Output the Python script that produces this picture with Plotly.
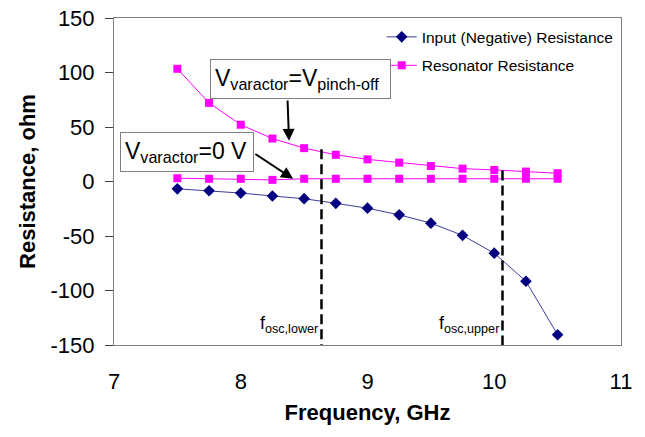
import plotly.graph_objects as go

# ---- data ----
freq_ghz = [7.5, 7.75, 8.0, 8.25, 8.5, 8.75, 9.0, 9.25, 9.5, 9.75, 10.0, 10.25, 10.5]
input_resistance = [-6.7, -8.5, -10.6, -13.3, -15.8, -20.0, -24.5, -30.6, -38.2, -49.4, -65.8, -91.5, -140.6]
resonator_pinchoff = [103.4, 72.1, 52.1, 39.4, 30.6, 24.5, 20.3, 17.3, 14.2, 11.8, 10.6, 9.1, 7.6]
resonator_zero_v = [3.0, 2.5, 2.5, 1.5, 2.5, 2.5, 2.5, 2.5, 2.5, 2.5, 2.5, 2.5, 2.5]

osc_lower_freq = 8.637
osc_lower_top = 29.7
osc_upper_freq = 10.065
osc_upper_top = 10.0
y_bottom = -150

x_ticks = [7, 8, 9, 10, 11]
y_ticks = [150, 100, 50, 0, -50, -100, -150]
y_tick_labels = ["150", "100", "50", "0", "-50", "-100", "-150"]

FONT = "Arial, Liberation Sans, sans-serif"
NARROW = "Liberation Sans Narrow, Arial Narrow, Liberation Sans, sans-serif"

fig = go.Figure()

fig.add_trace(go.Scatter(
    x=freq_ghz, y=input_resistance, mode="lines+markers",
    name="Input (Negative) Resistance",
    line=dict(color="#3c3ca0", width=1),
    marker=dict(symbol="diamond", size=9, color="#000080"),
    legend="legend",
))
fig.add_trace(go.Scatter(
    x=freq_ghz, y=resonator_pinchoff, mode="lines+markers",
    name="Resonator Resistance", legendgroup="res",
    line=dict(color="#ff00ff", width=1),
    marker=dict(symbol="square", size=8, color="#ff00ff"),
    legend="legend2",
))
fig.add_trace(go.Scatter(
    x=freq_ghz, y=resonator_zero_v, mode="lines+markers",
    name="Resonator Resistance", legendgroup="res", showlegend=False,
    line=dict(color="#ff00ff", width=1),
    marker=dict(symbol="square", size=8, color="#ff00ff"),
))

# dashed oscillation-limit lines
for fx, ftop in [(osc_lower_freq, osc_lower_top), (osc_upper_freq, osc_upper_top)]:
    fig.add_trace(go.Scatter(
        x=[fx, fx], y=[ftop, y_bottom], mode="lines", showlegend=False,
        line=dict(color="black", width=2.5, dash="10px,5px"), hoverinfo="skip",
    ))

annotations = [
    # text boxes
    dict(x=8.471, y=93.6, xref="x", yref="y", showarrow=False,
         text="V<sub>varactor</sub>=V<sub>pinch-off</sub>",
         font=dict(family=FONT, size=23, color="black"), align="left",
         bgcolor="white", bordercolor="#808080", borderwidth=1, borderpad=4,
         width=171, height=30),
    dict(x=7.574, y=27.4, xref="x", yref="y", showarrow=False,
         text="V<sub>varactor</sub>=0 V",
         font=dict(family=FONT, size=23, color="black"), align="left",
         bgcolor="white", bordercolor="#808080", borderwidth=1, borderpad=4,
         width=124, height=30),
    # arrows
    dict(x=8.381, y=37.3, ax=8.369, ay=75.7, xref="x", yref="y", axref="x", ayref="y",
         text="", showarrow=True, arrowhead=2, arrowsize=1.2, arrowwidth=2,
         arrowcolor="black", standoff=0, startstandoff=0),
    dict(x=8.413, y=2.5, ax=8.103, ay=26.1, xref="x", yref="y", axref="x", ayref="y",
         text="", showarrow=True, arrowhead=2, arrowsize=1.2, arrowwidth=2,
         arrowcolor="black", standoff=0, startstandoff=0),
    # f labels
    dict(x=osc_lower_freq, y=-131, xref="x", yref="y", showarrow=False,
         xanchor="right", yanchor="middle", xshift=-1,
         text="f<sub>osc,lower</sub>", font=dict(family=NARROW, size=18, color="black")),
    dict(x=osc_upper_freq, y=-131, xref="x", yref="y", showarrow=False,
         xanchor="right", yanchor="middle", xshift=-1,
         text="f<sub>osc,upper</sub>", font=dict(family=NARROW, size=18, color="black")),
]

fig.update_layout(
    width=645, height=437,
    margin=dict(l=114, r=24, t=18, b=92, autoexpand=False),
    paper_bgcolor="white", plot_bgcolor="white",
    font=dict(family=FONT, color="black"),
    annotations=annotations,
    legend=dict(x=0.528, y=0.941, xanchor="left", yanchor="middle",
                bgcolor="rgba(0,0,0,0)", font=dict(family=FONT, size=15.5, color="black")),
    legend2=dict(x=0.528, y=0.854, xanchor="left", yanchor="middle",
                 bgcolor="rgba(0,0,0,0)", font=dict(family=FONT, size=15.5, color="black")),
    xaxis=dict(range=[7, 11], tickvals=x_ticks, ticks="", showgrid=False, zeroline=False,
               showline=True, linecolor="#808080", linewidth=1, mirror=True, automargin=False,
               ticklabeloverflow="allow",
               tickfont=dict(size=22, family=FONT), ticklabelstandoff=17,
               title=dict(text="<b>Frequency, GHz</b>", font=dict(size=22, family=FONT), standoff=11)),
    yaxis=dict(range=[-150, 150], tickvals=y_ticks, ticktext=y_tick_labels, ticks="outside", ticklen=8,
               tickcolor="#404040", showgrid=False, zeroline=False, automargin=False,
               ticklabeloverflow="allow",
               showline=True, linecolor="#808080", linewidth=1, mirror=True,
               tickfont=dict(size=22, family=FONT), ticklabelstandoff=6,
               title=dict(text="<b>Resistance, ohm</b>", font=dict(size=22, family=FONT), standoff=8)),
)

fig.write_html("out.html", config={"displayModeBar": False},
               post_script="document.body.style.margin='0px';")
